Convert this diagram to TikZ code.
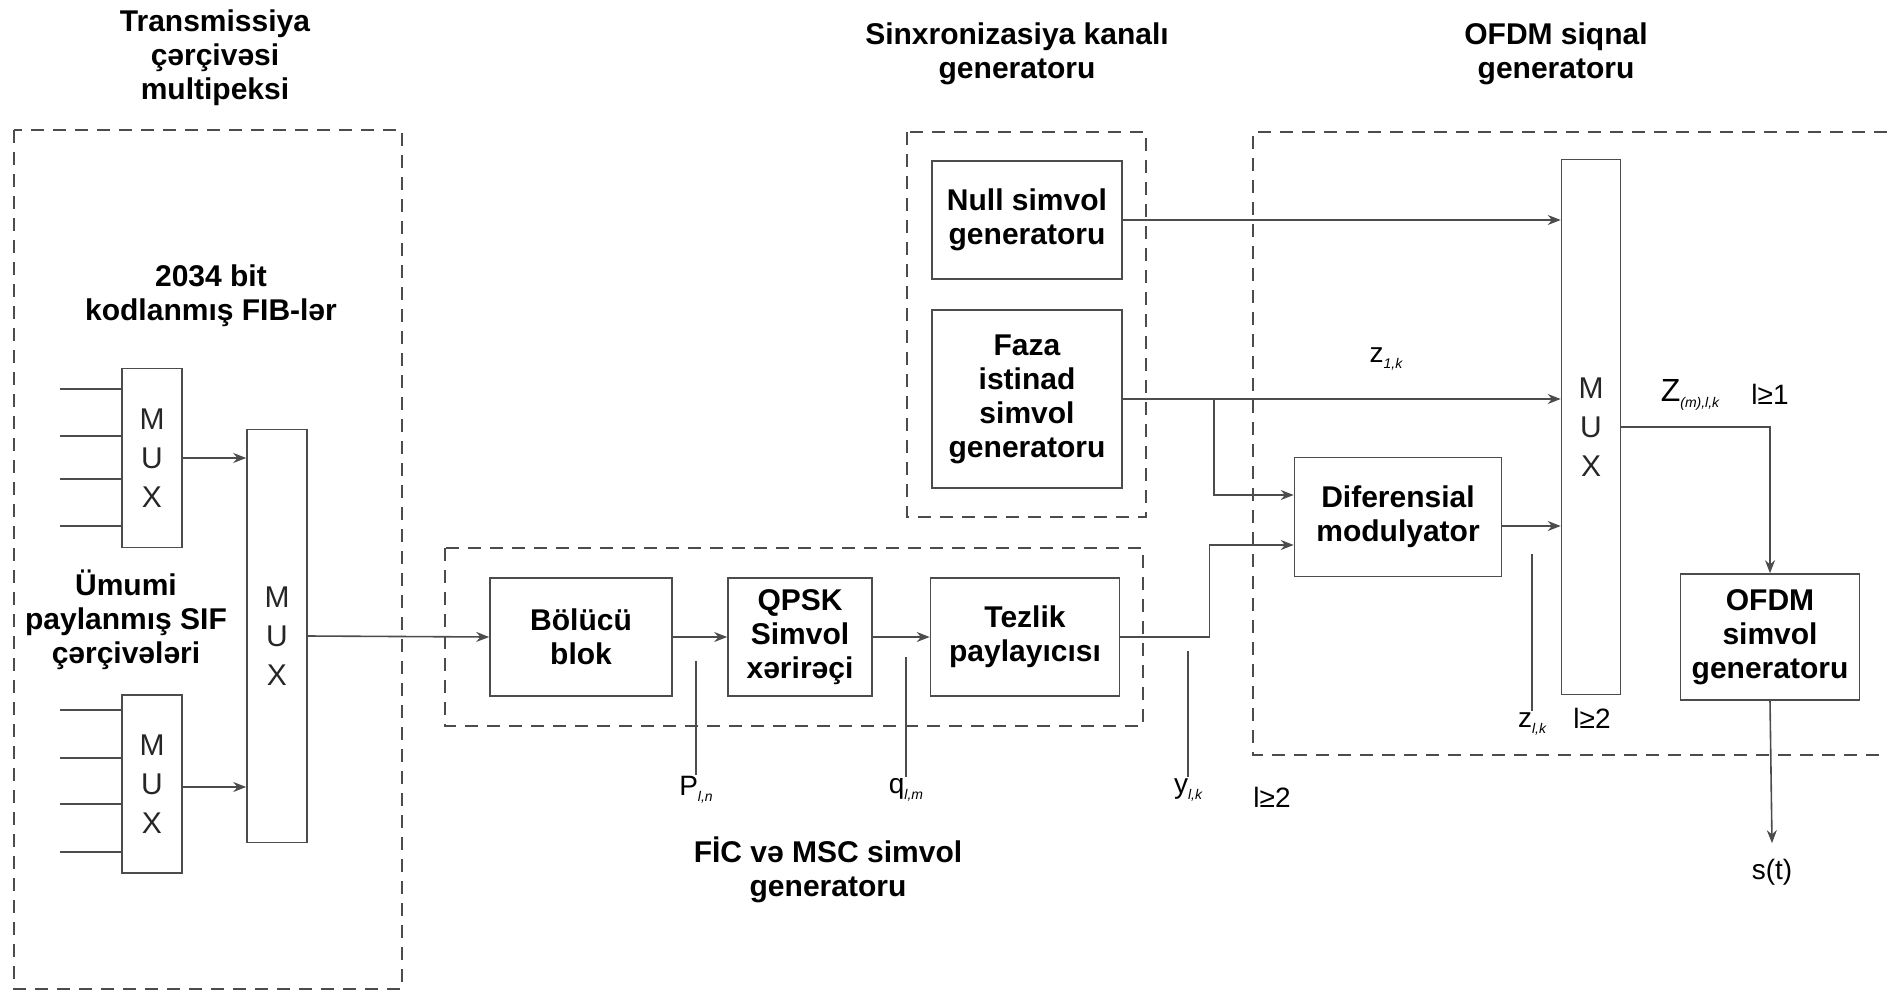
\documentclass[tikz,border=0pt]{standalone}
\usepackage{fontspec}
\setmainfont{Liberation Sans}
\usetikzlibrary{arrows.meta}

% small italic index under a signal name
\newcommand{\idx}[1]{\raisebox{-6pt}{\fontsize{14}{14}\selectfont\itshape #1}}

\begin{document}
\begin{tikzpicture}[
  x=1pt, y=-1pt,
  black!70, line width=1.6pt,
  box/.style={draw, text=black, align=center, inner sep=0pt,
              font=\fontsize{30}{34}\selectfont\bfseries},
  mux/.style={draw, text=black!85, align=center, inner sep=0pt,
              minimum width=60pt, font=\fontsize{30}{39}\selectfont},
  grp/.style={dash pattern=on 13pt off 9pt},
  ttl/.style={text=black, align=center, font=\fontsize{30}{34}\selectfont\bfseries},
  sig/.style={text=black, inner sep=1pt, font=\fontsize{28}{30}\selectfont},
  arr/.style={-{Stealth[length=13pt,width=10pt]}}
]
\useasboundingbox (0,0) rectangle (1887,993);

% group frames
\draw[grp] (14,130) rectangle (402,989);
\draw[grp] (445,548) rectangle (1143,726);
\draw[grp] (907,132) rectangle (1146,517);
\draw[grp] (1887,132) -- (1253,132) -- (1253,755) -- (1887,755);

% group titles
\node[ttl] (ttlmux)  at (215,58)   {Transmissiya\\çərçivəsi\\multipeksi};
\node[ttl] (ttlsync) at (1017,54)  {Sinxronizasiya kanalı\\generatoru};
\node[ttl] (ttlofdm) at (1556,54)  {OFDM siqnal\\generatoru};
\node[ttl] (ttlfib)  at (211,296)  {2034 bit\\kodlanmış FIB-lər};
\node[ttl] (ttlsif)  at (126,620)  {Ümumi\\paylanmış SIF\\çərçivələri};
\node[ttl] (ttlfic)  at (828,870)  {FİC və MSC simvol\\generatoru};

% multiplexers
\node[mux, minimum height=179pt] (muxfib) at (152,458) {M\\U\\X};
\node[mux, minimum height=178pt] (muxsif) at (152,784) {M\\U\\X};
\node[mux, minimum height=413pt] (muxall) at (277,636) {M\\U\\X};
\node[mux, minimum width=59pt, minimum height=535pt] (muxofdm) at (1591,427) {M\\U\\X};

% blocks
\node[box, minimum width=182pt, minimum height=118pt] (split) at (581,637) {Bölücü\\blok};
\node[box, minimum width=144pt, minimum height=118pt] (qpsk)  at (800,637) {QPSK\\Simvol\\xərirəçi};
\node[box, minimum width=189pt, minimum height=118pt] (freq)  at (1025,637) {Tezlik\\paylayıcısı};
\node[box, minimum width=190pt, minimum height=118pt] (null)  at (1027,220) {Null simvol\\generatoru};
\node[box, minimum width=190pt, minimum height=178pt] (phase) at (1027,399) {Faza\\istinad\\simvol\\generatoru};
\node[box, minimum width=207pt, minimum height=119pt] (diff)  at (1398,517) {Diferensial\\modulyator};
\node[box, minimum width=179pt, minimum height=126pt] (sym)   at (1770,637) {OFDM\\simvol\\generatoru};
\node[sig] (st) at (1772,872) {s(t)};

% signal names
\node[sig] (pl)  at (696,790)  {P\idx{l,n}};
\node[sig] (ql)  at (906,790)  {q\idx{l,m}};
\node[sig] (yl)  at (1188,790) {y\idx{l,k}};
\node[sig] (lyl) at (1272,797) {l≥2};
\node[sig] (z1)  at (1386,359) {z\idx{1,k}};
\node[sig] (zl)  at (1532,724) {z\idx{l,k}};
\node[sig] (lzl) at (1592,718) {l≥2};
\node[sig] (zz)  at (1690,395) {\fontsize{32}{32}\selectfont Z\idx{(m),l,k}};
\node[sig] (lzz) at (1770,394) {l≥1};

% inputs of the small multiplexers
\foreach \y in {389,436,479,526}
  \draw (60,\y) -- (muxfib.west |- 0,\y);
\foreach \y in {710,758,804,852}
  \draw (60,\y) -- (muxsif.west |- 0,\y);

\draw[arr] (muxfib.east) -- (muxfib.east -| muxall.west);
\draw[arr] ([yshift=-3pt]muxsif.east) -- ([yshift=-3pt]muxsif.east -| muxall.west);
\draw[arr] (muxall.east) -- (split.west);

\foreach \a/\b in {split/qpsk, qpsk/freq}
  \draw[arr] (\a) -- (\b);

\draw[arr] (freq.east) -- ++(89,0) |- ([yshift=-28pt]diff.west);
\draw[arr] (null.east) -- (null.east -| muxofdm.west);
\draw[arr] (phase.east) -- (phase.east -| muxofdm.west);
\draw[arr] (phase.east) ++(91,0) |- ([yshift=22pt]diff.west);
\draw[arr] ([yshift=-9pt]diff.east) -- ([yshift=-9pt]diff.east -| muxofdm.west);
\draw[arr] (muxofdm.east) -| (sym.north);
\draw[arr] (sym.south) -- ([yshift=14pt]st.north);

% taps to the signal names
\foreach \n/\h in {pl/114, ql/120, yl/126, zl/157}
  \draw (\n.north) -- ++(0,-\h);

\end{tikzpicture}
\end{document}
